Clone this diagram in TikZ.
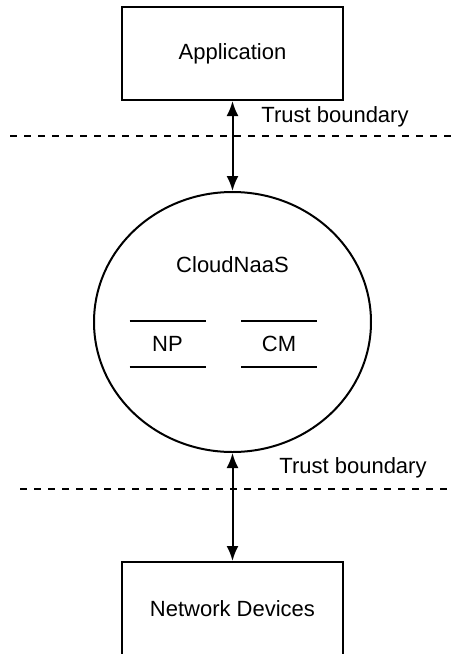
\documentclass[tikz,border=0pt]{standalone}
\usepackage{fontspec}
\setmainfont{Liberation Sans}
\usetikzlibrary{arrows.meta,shapes.geometric}
\begin{document}
\begin{tikzpicture}[x=0.5pt,y=-0.5pt,line width=1pt,
        font=\fontsize{11}{13}\selectfont,
        block/.style={draw,inner sep=0pt,minimum width=110.5pt,minimum height=46.5pt},
        part/.style={inner sep=0pt,minimum width=37pt,minimum height=22pt},
        link/.style={{Latex[length=7.5pt,width=6pt]}-{Latex[length=7.5pt,width=6pt]}},
        boundary/.style={dash pattern=on 3.5pt off 3.5pt,line width=0.7pt}]
        \useasboundingbox (0,0) rectangle (454,654);
        \clip (0,0) rectangle (454,654);
        \node[block] (app) at (232.5,53.5) {Application};
        \node[block] (dev) at (232.5,608.5) {Network Devices};
        \node[draw,ellipse,inner sep=0pt,minimum width=138.5pt,minimum height=130pt] (naas) at (232.5,322) {};
        \node (title) at (232.5,265) {CloudNaaS};
        \foreach \x/\t in {167.5/NP,279/CM}{%
        \node[part] (\t) at (\x,344) {\t};
        \draw (\t.north west) -- (\t.north east) (\t.south west) -- (\t.south east);
        }
        \draw[link] (app) -- (naas);
        \draw[link] (naas) -- (dev);
        \draw[boundary] (10,136) -- (454,136);
        \draw[boundary] (20,489) -- (454,489);
        \node (tb1) at (335,117) {Trust boundary};
        \node (tb2) at (353,468) {Trust boundary};
    \end{tikzpicture}
\end{document}
